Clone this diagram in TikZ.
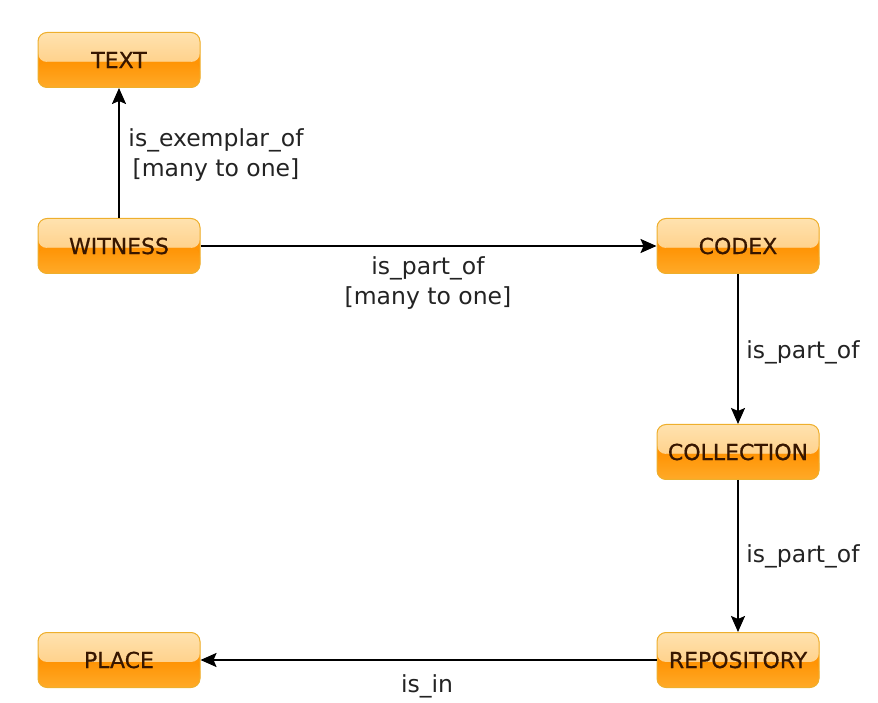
\documentclass[tikz,border=0pt]{standalone}
\usepackage{fontspec}
\setmainfont{DejaVu Sans}
\newfontfamily\nodefont{DejaVu Sans}[FakeBold=0.6]
\usetikzlibrary{arrows.meta,shadings}
\definecolor{boxtop}{RGB}{255,226,175}
\definecolor{boxmid}{RGB}{255,196,110}
\definecolor{boxlow}{RGB}{255,148,5}
\definecolor{boxbot}{RGB}{255,170,40}
\definecolor{boxedge}{RGB}{238,175,45}
\definecolor{boxtext}{RGB}{55,22,0}
\definecolor{lbl}{RGB}{35,35,35}
\tikzset{
  entity/.style={draw=boxedge, line width=1pt, rounded corners=9pt,
    minimum width=162pt, minimum height=55pt, inner sep=0pt,
    fill=boxlow,
    path picture={
      \fill[top color=boxtop, bottom color=boxmid]
        (path picture bounding box.north west) rectangle
        ([yshift=-2pt]path picture bounding box.east);
      \fill[top color=boxlow, bottom color=boxbot]
        ([yshift=-2pt]path picture bounding box.west) rectangle
        (path picture bounding box.south east);
    },
    text=boxtext, font=\nodefont\fontsize{22}{24}\selectfont},
  rel/.style={draw=black, line width=2pt, -{Stealth[length=16pt,width=14pt,inset=3pt]}},
  lab/.style={text=lbl, font=\fontsize{23.5}{30}\selectfont, align=center, inner sep=0pt}
}
\begin{document}
\begin{tikzpicture}[x=1pt,y=1pt]
\useasboundingbox (0,0) rectangle (878,702);
\node[entity] (text) at (119,642) {TEXT};
\node[entity] (witness) at (119,456) {WITNESS};
\node[entity] (codex) at (738,456) {CODEX};
\node[entity] (collection) at (738,250) {COLLECTION};
\node[entity] (repository) at (738,42) {REPOSITORY};
\node[entity] (place) at (119,42) {PLACE};
\draw[rel] (witness) -- (text);
\draw[rel] (witness) -- (codex);
\draw[rel] (codex) -- (collection);
\draw[rel] (collection) -- (repository);
\draw[rel] (repository) -- (place);
\node[lab] (l1) at (216,547) {is\_exemplar\_of\\{}[many to one]};
\node[lab] (l2) at (428,419) {is\_part\_of\\{}[many to one]};
\node[lab] (l3) at (803,350) {is\_part\_of};
\node[lab] (l4) at (803,146) {is\_part\_of};
\node[lab] (l5) at (427,16) {is\_in};
\end{tikzpicture}
\end{document}
